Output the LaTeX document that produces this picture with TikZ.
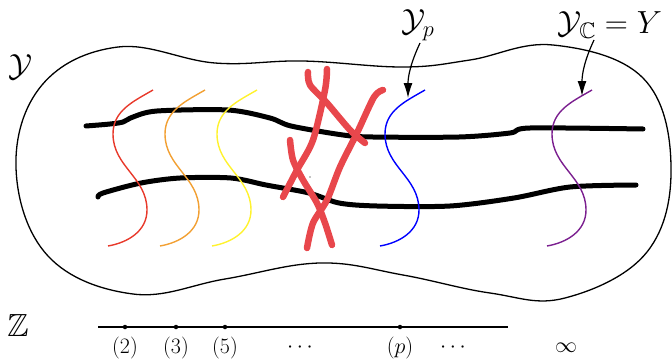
\RequirePackage{fix-cm}
\documentclass[tikz,border=0pt]{standalone}
\usepackage{amssymb}
\usetikzlibrary{arrows.meta}
\definecolor{fred}{HTML}{E8392B}
\definecolor{forange}{HTML}{F2A033}
\definecolor{fyellow}{HTML}{FFF22E}
\definecolor{fblue}{HTML}{0000FF}
\definecolor{fpurple}{HTML}{7B1F8F}
\definecolor{xred}{HTML}{E8474C}
\newcommand\fibarc[2]{\draw[fiber,#2] (#1+45,90) to[out=-150,in=90] (#1+5,134) to[out=-90,in=90] (#1+39,210) to[out=-90,in=10] (#1,246);}
\begin{document}
\begin{tikzpicture}[x=1pt,y=-1pt,
  blob/.style={line width=1.3pt},
  thickcurve/.style={line width=5pt, line cap=round, line join=round},
  fiber/.style={line width=1.4pt},
  redx/.style={line width=6.5pt, draw=xred, line cap=round, line join=round},
  lab/.style={inner sep=0pt, font=\fontsize{32}{38}\selectfont},
  axlab/.style={inner sep=0pt, font=\fontsize{22}{26}\selectfont},
  dot/.style={circle, fill, inner sep=0pt, minimum size=4.5pt},
  arr/.style={-{Latex[length=15pt,width=9pt]}, line width=1.2pt}]
\useasboundingbox (0,0) rectangle (672,359);

% outer blob
\draw[blob] plot[smooth cycle, tension=0.65] coordinates {(16,168) (42,85) (118,47) (215,63) (303,61) (403,67) (470,60) (553,45) (643,78) (671,165) (647,252) (565,298) (490,293) (403,275) (320,263) (225,279) (133,294) (48,256)};

% thick horizontal curves
\draw[thickcurve] plot[smooth, tension=0.5] coordinates {(86,126) (110,124) (123,122) (133,117) (157,111) (228,110) (270,118) (291,126) (343,135) (373,137) (459,137) (510,133) (530,128) (643,129)};
\draw[thickcurve] plot[smooth, tension=0.5] coordinates {(98,197) (103,193) (141,183) (180,178) (231,178) (266,185) (309,193) (339,203) (377,206) (450,206) (514,198) (570,187) (636,185)};

% fibers
\fibarc{108}{fred}
\fibarc{160}{forange}
\fibarc{212}{fyellow}
\fibarc{380}{fblue}
\fibarc{547}{fpurple}

% red crossing strokes
\draw[redx] plot[smooth, tension=0.5] coordinates {(308,72) (310,85) (327,103) (350,130) (365,143)};
\draw[redx] plot[smooth, tension=0.5] coordinates {(327,69) (325,90) (313,140) (297,170) (283,197)};
\draw[redx] plot[smooth, tension=0.5] coordinates {(383,90) (374,97) (357,133) (340,167) (327,200) (313,223) (307,248)};
\draw[redx] plot[smooth, tension=0.5] coordinates {(290,140) (293,160) (303,180) (317,203) (325,223) (332,245)};
\fill (310,177) circle (0.7pt);

% labels
\node[lab] (Ylab) at (21,67) {$\mathcal{Y}$};
\node[lab] (Yp) at (418,25) {$\mathcal{Y}_p$};
\node[lab] (YC) at (610,25) {$\mathcal{Y}_{\mathbb{C}} = Y$};
\node[lab] (Zlab) at (18,325) {$\mathbb{Z}$};

% arrows
\coordinate (ypstart) at (420,43);
\coordinate (ypend) at (408,98);
\coordinate (ycstart) at (594,40);
\coordinate (ycend) at (582,96);
\draw[arr] (ypstart) to[out=-115,in=90] (ypend);
\draw[arr] (ycstart) to[out=-115,in=90] (ycend);

% axis
\coordinate (axL) at (98,327);
\coordinate (axR) at (508,327);
\draw[line width=1.3pt] (axL) -- (axR);
\node[dot] (d2) at (125,327) {};
\node[dot] (d3) at (176,327) {};
\node[dot] (d5) at (225,327) {};
\node[dot] (dp) at (400,327) {};
\node[axlab] (l2) at (125,348) {$(2)$};
\node[axlab] (l3) at (176,348) {$(3)$};
\node[axlab] (l5) at (225,348) {$(5)$};
\node[axlab] (lc1) at (300,348) {$\cdots$};
\node[axlab] (lp) at (400,348) {$(p)$};
\node[axlab] (lc2) at (453,348) {$\cdots$};
\node[axlab] (linf) at (566,348) {$\infty$};
\end{tikzpicture}
\end{document}
